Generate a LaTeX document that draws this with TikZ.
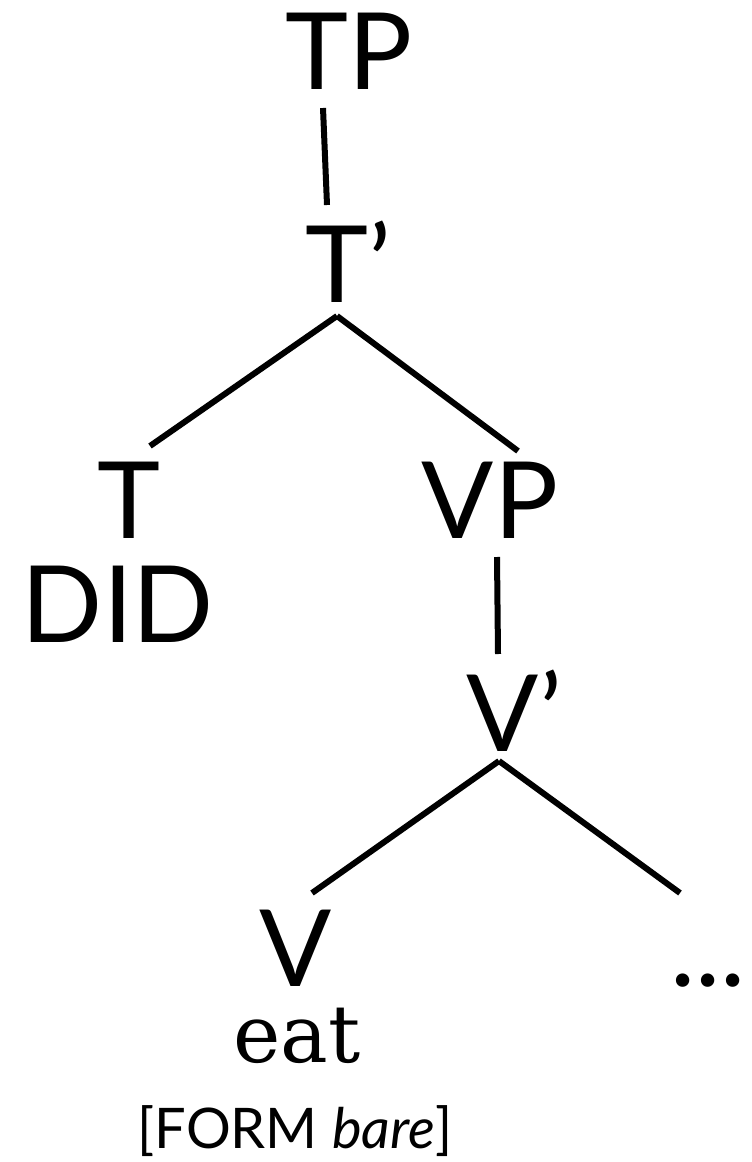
\documentclass[tikz,border=0pt]{standalone}
\usepackage{fontspec}
\setsansfont{Lato}
\newfontfamily\wordfont{DejaVu Serif}
\usetikzlibrary{calc}

\tikzset{
  cat/.style={font=\sffamily\fontsize{80}{80}\selectfont,inner sep=0pt,anchor=base},
  word/.style={font=\wordfont\fontsize{60}{60}\selectfont,inner sep=0pt,anchor=base},
  feat/.style={font=\sffamily\fontsize{42}{42}\selectfont,inner sep=0pt,anchor=base},
  branch/.style={line width=4.5pt},
}

\begin{document}
\begin{tikzpicture}[x=0.75pt,y=-0.75pt]
\useasboundingbox (0,0) rectangle (752,1162);
% labels
\node[cat] (tp) at (349,90) {TP};
\node[cat] (tbar) at (337,302) {T\rlap{’}};
\node[cat] (t) at (129,538) {T};
\node[cat] (did) at (118,642) {DID};
\node[cat] (vp) at (490,538) {VP};
\node[cat] (vbar) at (503,751) {V\rlap{’}};
\node[cat] (v) at (296,986) {V};
\node[cat] (dots) at (708,986) {...};
\node[word] (eat) at (297,1062) {eat};
\node[feat] (form) at (295,1148) {[FORM \textit{bare}]};
% branches
\draw[branch] ($(tp.base)+(-26,18)$) -- ($(tbar.base)+(-10,-97)$);
\draw[branch] ($(tbar.base)+(0,14)$) -- ($(t.base)+(21,-92)$);
\draw[branch] ($(tbar.base)+(0,14)$) -- ($(vp.base)+(28,-87)$);
\draw[branch] ($(vp.base)+(7,19)$) -- ($(vbar.base)+(-5,-97)$);
\draw[branch] ($(vbar.base)+(-4,10)$) -- ($(v.base)+(16,-93)$);
\draw[branch] ($(vbar.base)+(-4,10)$) -- ($(dots.base)+(-28,-93)$);
\end{tikzpicture}
\end{document}
